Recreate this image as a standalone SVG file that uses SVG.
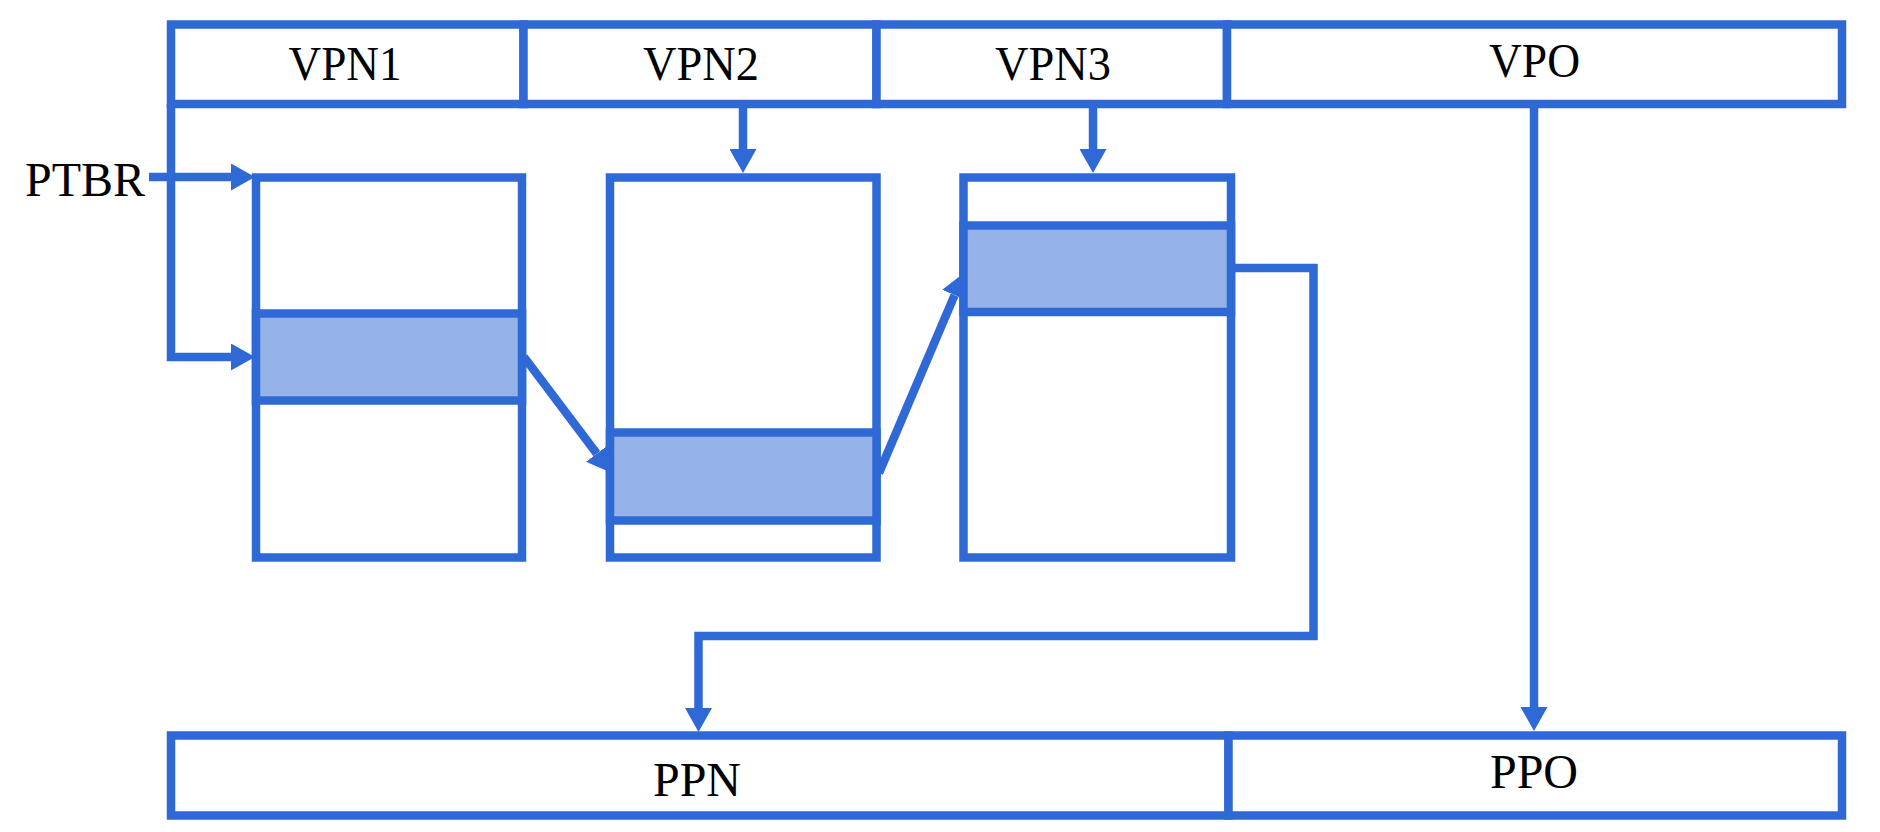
<svg xmlns="http://www.w3.org/2000/svg" width="1880" height="832" viewBox="0 0 1880 832">
<style>
.cell{fill:#ffffff;stroke:#2F69D6;stroke-width:8.5}
.hl{fill:#94B2E7;stroke:#2F69D6;stroke-width:8.5}
.lbl{font-family:"Liberation Serif","Times New Roman",serif;font-size:48px;fill:#000000;text-anchor:middle}
.conn{fill:none;stroke:#2F69D6;stroke-width:8.5;stroke-linejoin:miter}
</style>
<defs>
<marker id="ah" markerUnits="userSpaceOnUse" viewBox="0 0 24 27" markerWidth="24" markerHeight="27" refX="0" refY="13.5" orient="auto">
<path d="M0,0 L24,13.5 L0,27 z" fill="#2F69D6"/>
</marker>
</defs>
<rect width="1880" height="832" fill="#ffffff"/>
<g id="va">
<g id="vpn1"><rect class="cell" x="171" y="24.5" width="352.5" height="79.5"/><text class="lbl" x="345" y="80" textLength="113" lengthAdjust="spacingAndGlyphs">VPN1</text></g>
<g id="vpn2"><rect class="cell" x="523.5" y="24.5" width="353" height="79.5"/><text class="lbl" x="701" y="80" textLength="116" lengthAdjust="spacingAndGlyphs">VPN2</text></g>
<g id="vpn3"><rect class="cell" x="876.5" y="24.5" width="350.5" height="79.5"/><text class="lbl" x="1053" y="80" textLength="116" lengthAdjust="spacingAndGlyphs">VPN3</text></g>
<g id="vpo"><rect class="cell" x="1227" y="24.5" width="615" height="79.5"/><text class="lbl" x="1534.5" y="77" textLength="91" lengthAdjust="spacingAndGlyphs">VPO</text></g>
</g>
<g id="ptbr"><text class="lbl" x="85" y="196">PTBR</text></g>
<g id="table1">
<rect class="cell" x="256" y="177.5" width="266" height="380"/>
<rect class="hl" x="256" y="313.5" width="266" height="87"/>
</g>
<g id="table2">
<rect class="cell" x="610" y="177.5" width="266.5" height="380"/>
<rect class="hl" x="610" y="432.5" width="266.5" height="88"/>
</g>
<g id="table3">
<rect class="cell" x="963.5" y="177.5" width="267.5" height="380"/>
<rect class="hl" x="963.5" y="225.5" width="267.5" height="86.5"/>
</g>
<g id="pa">
<g id="ppn"><rect class="cell" x="171" y="735.5" width="1057.5" height="80"/><text class="lbl" x="697" y="796">PPN</text></g>
<g id="ppo"><rect class="cell" x="1228.5" y="735.5" width="613.5" height="80"/><text class="lbl" x="1534" y="788">PPO</text></g>
</g>
<g id="connectors">
<path class="conn" d="M149,177 L231,177" marker-end="url(#ah)"/>
<path class="conn" d="M171,104 L171,357 L231,357" marker-end="url(#ah)"/>
<path class="conn" d="M743,104 L743,149" marker-end="url(#ah)"/>
<path class="conn" d="M1093,104 L1093,149" marker-end="url(#ah)"/>
<path class="conn" d="M524,357 L596.8,453.6" marker-end="url(#ah)"/>
<path class="conn" d="M879,473 L954.6,295.1" marker-end="url(#ah)"/>
<path class="conn" d="M1231,268 L1313.5,268 L1313.5,636 L698.5,636 L698.5,708" marker-end="url(#ah)"/>
<path class="conn" d="M1534,104 L1534,707" marker-end="url(#ah)"/>
</g>
</svg>
